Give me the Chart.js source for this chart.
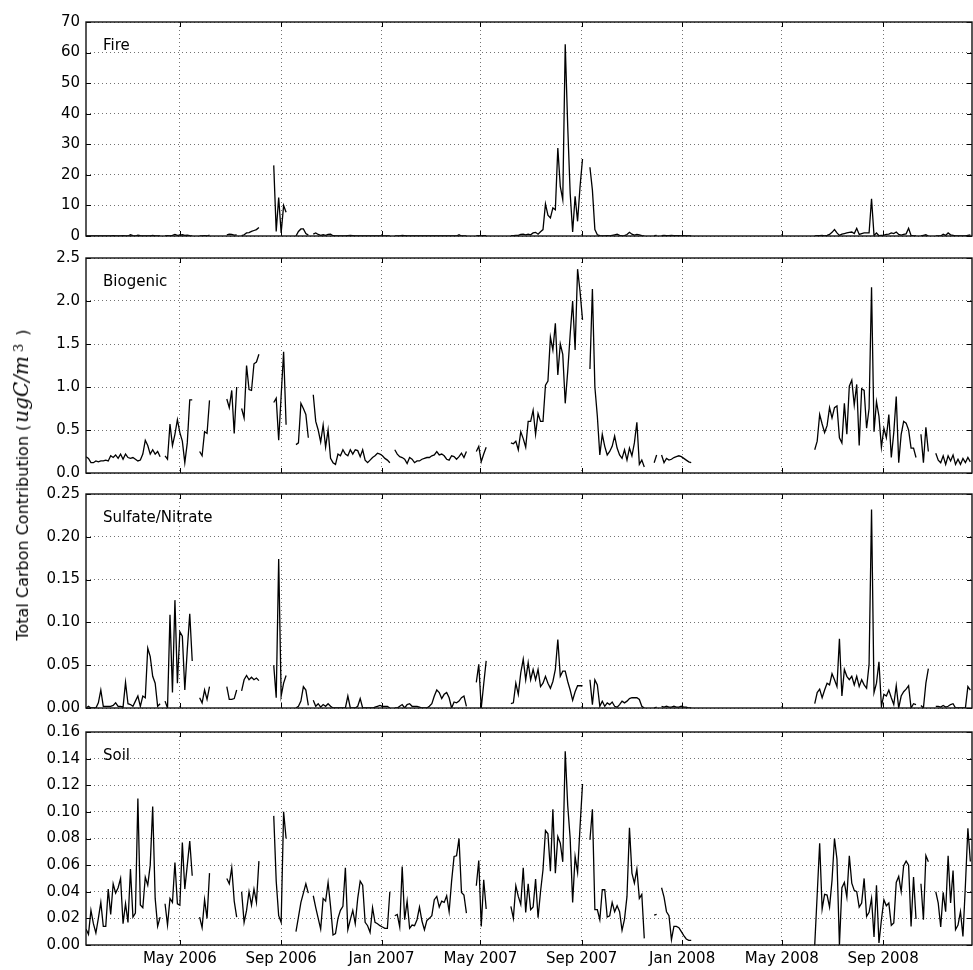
<!DOCTYPE html>
<html>
<head>
<meta charset="utf-8">
<script src="https://cdn.jsdelivr.net/npm/chart.js@4.4.1/dist/chart.umd.min.js"></script>
<style>
html,body{margin:0;padding:0;background:#fff;overflow:hidden;}
#wrap{position:relative;width:973px;height:970px;}
canvas{position:absolute;left:0;}
#ylab{position:absolute;left:22px;top:485px;transform:translate(-50%,-50%) rotate(-90deg);white-space:nowrap;font-family:"DejaVu Sans";font-size:16px;color:#000;line-height:22px;}
#ylab .m{font-family:"DejaVu Serif";font-style:italic;font-size:20px;padding-left:2px;}
#ylab sup{font-family:"DejaVu Serif";font-size:13px;font-style:normal;margin-left:4px;position:relative;top:-2px;vertical-align:top;}
#ylab .cl{margin-left:8px;}
</style>
</head>
<body>
<div id="wrap">
<canvas id="c0" width="973" height="254" style="top:2px"></canvas>
<canvas id="c1" width="973" height="255" style="top:238px"></canvas>
<canvas id="c2" width="973" height="254" style="top:474px"></canvas>
<canvas id="c3" width="973" height="258" style="top:712px"></canvas>
<div id="ylab">Total Carbon Contribution (<span class="m">ugC/m</span><sup>3</sup><span class="cl">)</span></div>
</div>
<script>
const _ = null;
// sampling: every 3rd day starting at startDate
const startDate = '2006-01-07';
const stepDays = 3;
const axisEndDate = '2008-12-18';
const tickDates = ['2006-05-01','2006-09-01','2007-01-01','2007-05-01','2007-09-01','2008-01-01','2008-05-01','2008-09-01'];
const tickLabels = ['May 2006','Sep 2006','Jan 2007','May 2007','Sep 2007','Jan 2008','May 2008','Sep 2008'];
const panelNames = ['Fire','Biogenic','Sulfate/Nitrate','Soil'];
const fireTicks = [0,10,20,30,40,50,60,70];
const biogenicTicks = [0,0.5,1.0,1.5,2.0,2.5];
const sulfateTicks = [0,0.05,0.10,0.15,0.20,0.25];
const soilTicks = [0,0.02,0.04,0.06,0.08,0.10,0.12,0.14,0.16];

const fire = [
  0,0,0,0,0,0,0,0,0,0, 0,0.1,0,0,0,0.1,0,0,0.4,0.1, 0,0.3,0.1,0,0,0,0,0.2,0,0, 0,
  _,
  0,0.1,0,0.2,0.5,0.2,0.3,0.4,0.2,0.3,0.1,0,
  _,_,
  0,0,0.1,0,0.3,
  _,_,_,_,_,_,
  0.4,0.6,0.5,0.3,0.4,
  _,
  0.1,0.4,1.0,1.1,1.5,1.8,2.1,2.8,
  _,_,_,_,_,
  23.1,1.5,12.6,1.0,10,7.8,
  _,_,_,
  0,1.5,2.3,2.3,0.8,0.3,
  _,
  0.6,1.0,0.5,0.2,0.4,0.2,0.5,0.6,0.1,0, 0,0,0,0,0.1,0.2,0.1,0,0,0, 0,0,0,0,0,0,0,0,0,0, 0,0,
  _,
  0,0,0,0.2,0.1,0,0,0,0,0, 0,0,0,0,0,0,0,0,0,0, 0,0,0,0,0,0,0.4,0,0,0,
  _,_,_,
  0.1,0.1,0,0.1,0.1,
  _,_,_,_,_,_,_,_,_,
  0.1,0.1,0.2,0.2,0.5,0.6,0.4,0.6,0.4,1.0, 1.2,0.6,1.4,2.1,10.5,6.8,5.9,9.2,8.6,28.8, 16.2,11.9,62.7,36,14,1.3,13,4.8,16.2,25.2,
  _,_,
  22.5,15,2.1,0.4,0.1,0,0,0.1,0,0.2, 0.4,0.6,0.2,0,0.1,0.5,1.2,0.6,0.3,0.5, 0.4,0.1,0,
  _,_,_,
  0.1,0.2,
  _,
  0.1,0.2,0.1,0.1,0.2,0.1,0.1,0.1,0,0.1,0,0,0,
  _,_,_,_,_,_,_,_,_,_, _,_,_,_,_,_,_,_,_,_, _,_,_,_,_,_,_,_,_,_, _,_,_,_,_,_,_,_,_,_, _,_,_,_,_,_,_,_,_,
  0,0.1,0.1,0.2,0,0.2,0.5,1.2,2.1,1.0, 0.2,0.6,0.8,1.0,1.2,1.3,0.8,2.5,0.5,0.8, 1.0,1.0,1.0,12.2,0.2,1.0,0.1,0.2,0.3,0.5, 0.6,1.0,0.8,1.3,0.5,0.3,0.5,0.7,2.5,0.2, 0,0,
  _,
  0,0.2,0.4,0,
  _,_,
  0,0,0,0.6,0.2,1.0,0.4,0.2,0,0,0,0,0,0.2,0.4
];

const biogenic = [
  0.19,0.17,0.12,0.12,0.14,0.13,0.14,0.14,0.15,0.14, 0.2,0.18,0.21,0.17,0.22,0.16,0.22,0.18,0.17,0.18, 0.16,0.14,0.15,0.22,0.38,0.32,0.22,0.27,0.22,0.25, 0.19,
  _,
  0.2,0.16,0.57,0.32,0.45,0.62,0.47,0.37,0.12,0.35,0.85,0.85,
  _,_,
  0.25,0.2,0.48,0.46,0.845,
  _,_,_,_,_,_,
  0.86,0.76,0.96,0.46,1.0,
  _,
  0.75,0.64,1.25,0.97,0.96,1.27,1.29,1.38,
  _,_,_,_,_,
  0.82,0.87,0.38,0.9,1.41,0.56,
  _,_,_,
  0.33,0.35,0.81,0.75,0.68,0.41,
  _,
  0.91,0.6,0.5,0.36,0.56,0.3,0.5,0.17,0.12,0.1, 0.22,0.2,0.27,0.22,0.2,0.27,0.22,0.27,0.26,0.19, 0.27,0.15,0.12,0.15,0.18,0.2,0.23,0.22,0.2,0.17, 0.15,0.12,
  _,
  0.27,0.22,0.19,0.18,0.16,0.11,0.18,0.16,0.12,0.14, 0.14,0.16,0.17,0.18,0.18,0.2,0.21,0.25,0.21,0.22, 0.2,0.16,0.15,0.2,0.19,0.16,0.19,0.23,0.18,0.25,
  _,_,_,
  0.25,0.31,0.13,0.22,0.3,
  _,_,_,_,_,_,_,_,_,
  0.35,0.34,0.37,0.27,0.48,0.4,0.3,0.6,0.6,0.73, 0.45,0.69,0.6,0.6,1.02,1.07,1.58,1.43,1.74,1.14, 1.5,1.38,0.81,1.18,1.61,2.0,1.43,2.37,2.11,1.78,
  _,_,
  1.21,2.14,1.0,0.66,0.21,0.45,0.31,0.21,0.25,0.31, 0.43,0.29,0.21,0.17,0.27,0.15,0.29,0.2,0.35,0.59, 0.1,0.15,0.07,
  _,_,_,
  0.12,0.21,
  _,
  0.21,0.12,0.17,0.15,0.16,0.18,0.19,0.2,0.19,0.17,0.15,0.13,0.12,
  _,_,_,_,_,_,_,_,_,_, _,_,_,_,_,_,_,_,_,_, _,_,_,_,_,_,_,_,_,_, _,_,_,_,_,_,_,_,_,_, _,_,_,_,_,_,_,_,_,
  0.27,0.37,0.68,0.57,0.47,0.55,0.76,0.64,0.76,0.78, 0.41,0.35,0.81,0.45,1.01,1.08,0.79,1.03,0.32,0.98, 0.96,0.52,0.75,2.16,0.48,0.83,0.66,0.3,0.52,0.41, 0.68,0.18,0.47,0.89,0.12,0.45,0.6,0.58,0.5,0.29, 0.29,0.18,
  _,
  0.45,0.12,0.53,0.25,
  _,_,
  0.23,0.15,0.12,0.2,0.1,0.2,0.14,0.21,0.1,0.16,0.1,0.17,0.12,0.18,0.13
];

const sulfate = [
  0,0.002,0,0,0,0.006,0.021,0.002,0.002,0.002, 0.002,0.003,0.006,0.002,0.002,0.001,0.030,0.005,0.004,0.002, 0.008,0.014,0.002,0.014,0.012,0.070,0.06,0.037,0.029,0.002, 0.005,
  _,
  0.008,0.0,0.109,0.018,0.126,0.029,0.089,0.084,0.021,0.068,0.110,0.055,
  _,_,
  0.012,0.006,0.021,0.01,0.025,
  _,_,_,_,_,_,
  0.025,0.01,0.01,0.011,0.021,
  _,
  0.02,0.033,0.038,0.033,0.036,0.033,0.035,0.032,
  _,_,_,_,_,
  0.05,0.012,0.174,0.014,0.029,0.038,
  _,_,_,
  0.0,0.002,0.008,0.025,0.021,0.003,
  _,
  0.009,0.002,0.005,0.001,0.004,0.002,0.005,0.002,0,0, 0,0,0,0,0.014,0,0,0,0.002,0.011, 0,0,0,0,0,0.001,0.002,0.003,0.002,0.002, 0.002,0,
  _,
  0,0,0.002,0.004,0,0.004,0.005,0.002,0.002,0.002, 0.001,0,0,0,0.002,0.005,0.014,0.021,0.018,0.011, 0.016,0.018,0.012,0,0.007,0.006,0.008,0.012,0.014,0.002,
  _,_,_,
  0.03,0.051,0,0.028,0.055,
  _,_,_,_,_,_,_,_,_,
  0.005,0.006,0.029,0.016,0.041,0.057,0.033,0.053,0.033,0.045, 0.033,0.045,0.025,0.029,0.037,0.029,0.023,0.031,0.045,0.080, 0.037,0.043,0.043,0.031,0.021,0.009,0.019,0.026,0.026,0.026,
  _,_,
  0.033,0.004,0.033,0.027,0.002,0.008,0.002,0.006,0.004,0.007, 0.002,0.001,0.004,0.008,0.006,0.008,0.011,0.012,0.012,0.012, 0.01,0.002,0,
  _,_,_,
  0,0.001,
  _,
  0.002,0.001,0.002,0.001,0.001,0.002,0.001,0.001,0.002,0.001,0.001,0,0,
  _,_,_,_,_,_,_,_,_,_, _,_,_,_,_,_,_,_,_,_, _,_,_,_,_,_,_,_,_,_, _,_,_,_,_,_,_,_,_,_, _,_,_,_,_,_,_,_,_,
  0.005,0.018,0.022,0.012,0.021,0.029,0.027,0.040,0.033,0.025, 0.081,0.014,0.045,0.037,0.033,0.037,0.027,0.037,0.025,0.033, 0.027,0.023,0.051,0.232,0.018,0.029,0.054,0.002,0.016,0.014, 0.021,0.012,0.004,0.026,0,0.014,0.019,0.022,0.026,0, 0.005,0.004,
  _,
  0.003,0,0.029,0.046,
  _,_,
  0.002,0.002,0.001,0.003,0.001,0.002,0.004,0.005,0,0,0,0,0,0.025,0.021
];

const soil = [
  0.012,0.008,0.026,0.016,0.009,0.02,0.032,0.014,0.014,0.042, 0.023,0.046,0.039,0.043,0.050,0.016,0.031,0.017,0.057,0.021, 0.024,0.110,0.030,0.028,0.051,0.045,0.060,0.104,0.035,0.014, 0.021,
  _,
  0.031,0.015,0.035,0.032,0.062,0.031,0.030,0.077,0.042,0.060,0.078,0.052,
  _,_,
  0.021,0.013,0.034,0.020,0.054,
  _,_,_,_,_,_,
  0.050,0.046,0.058,0.033,0.021,
  _,
  0.040,0.017,0.026,0.040,0.030,0.042,0.032,0.063,
  _,_,_,_,_,
  0.097,0.048,0.022,0.017,0.100,0.080,
  _,_,_,
  0.010,0.021,0.032,0.039,0.046,0.039,
  _,
  0.037,0.028,0.020,0.012,0.035,0.033,0.047,0.029,0.0075,0.0085, 0.02,0.026,0.029,0.058,0.0115,0.019,0.026,0.016,0.035,0.048, 0.045,0.017,0.0145,0.0095,0.028,0.017,0.016,0.0145,0.0135,0.0125, 0.0125,0.040,
  _,
  0.022,0.023,0.0135,0.059,0.019,0.033,0.0125,0.015,0.0145,0.019, 0.0285,0.018,0.0115,0.0185,0.02,0.022,0.034,0.0365,0.0285,0.033, 0.032,0.037,0.025,0.048,0.0665,0.067,0.080,0.0395,0.0375,0.024,
  _,_,_,
  0.0445,0.0635,0.014,0.049,0.027,
  _,_,_,_,_,_,_,_,_,
  0.029,0.02,0.0445,0.0365,0.0305,0.058,0.0245,0.046,0.0265,0.0285, 0.0495,0.0205,0.04,0.0565,0.086,0.0835,0.0555,0.102,0.054,0.0815, 0.0765,0.0625,0.1455,0.105,0.080,0.032,0.0665,0.0545,0.089,0.121,
  _,_,
  0.079,0.102,0.0265,0.0265,0.019,0.0415,0.0415,0.021,0.022,0.032, 0.025,0.0295,0.025,0.011,0.0195,0.0365,0.088,0.054,0.0465,0.057, 0.035,0.038,0.005,
  _,_,_,
  0.0225,0.023,
  _,
  0.043,0.036,0.025,0.022,0.004,0.014,0.014,0.013,0.010,0.007,0.0045,0.0035,0.0035,
  _,_,_,_,_,_,_,_,_,_, _,_,_,_,_,_,_,_,_,_, _,_,_,_,_,_,_,_,_,_, _,_,_,_,_,_,_,_,_,_, _,_,_,_,_,_,_,_,_,
  0.0,0.038,0.0765,0.027,0.038,0.0375,0.0285,0.0485,0.080,0.0645, 0.0,0.043,0.047,0.036,0.067,0.0465,0.041,0.040,0.0285,0.0315, 0.050,0.0215,0.0245,0.035,0.006,0.0448,0.0015,0.019,0.034,0.0295, 0.0315,0.0148,0.0165,0.047,0.0515,0.040,0.0595,0.063,0.060,0.014, 0.051,0.0195,
  _,
  0.046,0.019,0.0672,0.0625,
  _,_,
  0.040,0.0315,0.0135,0.0395,0.025,0.067,0.0315,0.056,0.0115,0.015,0.025,0.0065,0.045,0.0877,0.0627
];

[fire,biogenic,sulfate,soil].forEach((a,k)=>{ if(a.length!==359) console.error('series '+k+' length '+a.length); });

function dayOf(s){
  const p = s.split('-').map(Number);
  const q = startDate.split('-').map(Number);
  return Math.round((Date.UTC(p[0],p[1]-1,p[2]) - Date.UTC(q[0],q[1]-1,q[2]))/86400000);
}
const tickDays = tickDates.map(dayOf);
const axisMax = dayOf(axisEndDate);

const FONT = {family:'"DejaVu Sans"', size:15};

const framePlugin = {
  id:'frame',
  afterDraw(chart, args, opts){
    const {ctx, chartArea:a, scales} = chart;
    ctx.save();
    ctx.strokeStyle = '#000';
    ctx.lineWidth = 1;
    ctx.beginPath();
    scales.x.ticks.forEach(t=>{
      const x = Math.round(scales.x.getPixelForValue(t.value))+0.5;
      ctx.moveTo(x, a.bottom); ctx.lineTo(x, a.bottom-5);
      ctx.moveTo(x, a.top); ctx.lineTo(x, a.top+5);
    });
    scales.y.ticks.forEach(t=>{
      const y = Math.round(scales.y.getPixelForValue(t.value))+0.5;
      ctx.moveTo(a.left, y); ctx.lineTo(a.left+5, y);
      ctx.moveTo(a.right, y); ctx.lineTo(a.right-5, y);
    });
    ctx.stroke();
    ctx.lineWidth = 1.4;
    ctx.strokeStyle = '#111';
    ctx.strokeRect(a.left, a.top, a.right-a.left, a.bottom-a.top);
    ctx.font = '15px "DejaVu Sans"';
    ctx.fillStyle = '#000';
    ctx.textBaseline = 'alphabetic';
    ctx.textAlign = 'left';
    ctx.fillText(opts.label, a.left+17, a.top+28);
    ctx.restore();
  }
};

function makePanel(id, values, yTicks, decimals, label, showX){
  const pts = values.map((v,i)=>({x:i*stepDays, y:v}));
  const gridCommon = {color:'rgba(0,0,0,0.55)', lineWidth:1, drawTicks:false};
  return new Chart(document.getElementById(id), {
    type:'line',
    data:{datasets:[{data:pts, borderColor:'#000', borderWidth:1.3, pointRadius:0, pointHoverRadius:0, tension:0, spanGaps:false}]},
    options:{
      responsive:false, animation:false, devicePixelRatio:1, events:[],
      layout:{padding:{top:20, bottom: showX?0:20, left:0, right:1}},
      plugins:{legend:{display:false}, tooltip:{enabled:false}, frame:{label:label}},
      scales:{
        x:{
          type:'linear', min:0, max:axisMax,
          afterBuildTicks:s=>{ s.ticks = tickDays.map(v=>({value:v})); },
          afterFit: showX ? (s=>{ s.height = 25; }) : undefined,
          ticks:{display:showX, autoSkip:false, maxRotation:0, padding:5, color:'#000', font:FONT,
            callback:(v)=>{ const k = tickDays.indexOf(v); return k>=0 ? tickLabels[k] : ''; }},
          grid:gridCommon,
          border:{display:false, dash:[1,3]}
        },
        y:{
          min:yTicks[0], max:yTicks[yTicks.length-1],
          afterBuildTicks:s=>{ s.ticks = yTicks.map(v=>({value:v})); },
          afterFit:s=>{ s.width = 86; },
          ticks:{padding:6, color:'#000', font:FONT, callback:(v)=>Number(v).toFixed(decimals)},
          grid:gridCommon,
          border:{display:false, dash:[1,3]}
        }
      }
    },
    plugins:[framePlugin]
  });
}

makePanel('c0', fire, fireTicks, 0, panelNames[0], false);
makePanel('c1', biogenic, biogenicTicks, 1, panelNames[1], false);
makePanel('c2', sulfate, sulfateTicks, 2, panelNames[2], false);
makePanel('c3', soil, soilTicks, 2, panelNames[3], true);
</script>
</body>
</html>
